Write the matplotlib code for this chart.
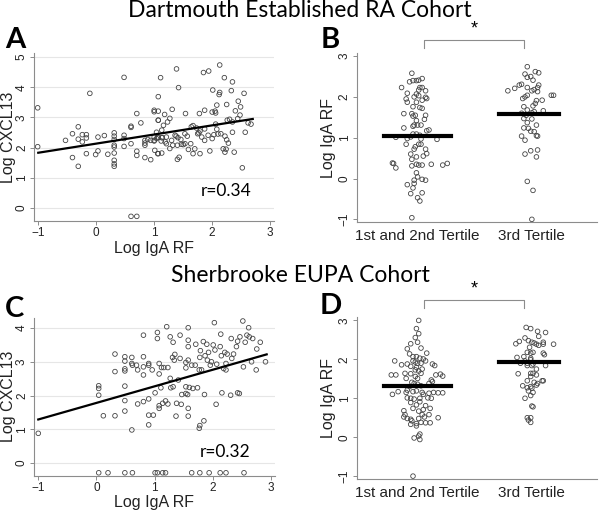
import matplotlib
matplotlib.use("Agg")
import matplotlib.pyplot as plt

# panel A: Dartmouth scatter (log IgA RF vs log CXCL13)
a_x = [-1.01, -1.01, 0.48, -0.11, -0.31, -0.41, -0.53, -0.31, -0.24, -0.17, -0.17, -0.24, -0.41, -0.31,
       -0.17, -0.01, 0.03, 0.03, 0.14, 0.20, 0.31, 0.31, 0.31, 0.31, 0.31, 0.31, 0.31, 0.31, 0.31, 0.48,
       0.48, 0.48, 0.60, 0.60, 0.60, 0.70, 0.70, 0.70, 0.77, 0.84, 0.84, 0.84, 0.84, 0.89, 0.94, 0.94,
       1.00, 1.00, 1.00, 1.00, 1.06, 1.07, 1.01, 1.07, 0.60, 0.70,
       1.385, 1.11, 2.13, 1.85, 1.94, 2.21, 2.35, 1.42, 1.07, 1.07, 1.07, 2.01, 2.13, 2.12, 2.33, 2.45,
       2.55, 2.49, 2.40, 2.08, 2.25, 2.05, 2.06, 1.87, 2.00, 1.54, 1.78, 1.31, 1.18, 1.27, 1.23, 1.16,
       1.64, 1.67, 1.73, 1.79, 1.87, 2.06, 2.08, 2.10, 2.15, 2.26, 2.30, 2.35, 2.44, 2.48, 2.57, 2.62,
       2.67, 2.35, 2.22, 2.25, 2.28, 2.38, 2.52, 2.22, 2.24, 2.19, 1.96, 1.79, 1.67, 1.59, 1.40, 1.43,
       1.40, 1.27, 1.13, 1.06, 1.13, 1.21, 1.30, 1.36, 1.46, 1.50, 1.70, 1.82, 1.87, 1.93, 2.00, 2.03,
       1.63, 1.57, 1.53, 1.75, 1.77, 1.13, 1.04,
       1.00, 1.07, 1.12, 1.19, 1.04, 1.21, 1.38, 1.41, 1.47, 1.53, 1.32, 1.14]
a_y = [3.32, 2.03, 4.33, 3.80, 2.69, 2.46, 2.24, 2.28, 2.43, 2.43, 2.32, 2.19, 1.67, 1.38,
       1.80, 1.77, 1.89, 2.35, 2.40, 1.78, 2.49, 2.38, 2.27, 2.08, 2.02, 1.82, 1.58, 1.46, 1.38, 2.41,
       2.30, 2.04, 2.71, 2.67, 2.13, 3.13, 1.88, 1.74, 2.82, 2.24, 2.15, 2.08, 1.67, 2.27, 2.24, 1.60,
       3.24, 3.19, 2.24, 2.35, 2.33, 2.91, 1.91, 1.80, -0.28, -0.28,
       4.61, 4.32, 4.74, 4.49, 4.54, 4.32, 4.18, 3.99, 3.69, 3.21, 2.91, 3.91, 3.83, 3.76, 3.89, 3.54,
       3.80, 3.35, 3.22, 3.41, 3.43, 3.21, 3.15, 3.24, 3.18, 3.13, 3.13, 3.27, 3.10, 2.97, 2.85, 2.74,
       2.69, 2.73, 2.65, 2.55, 2.62, 2.78, 2.61, 2.45, 2.46, 2.91, 2.94, 2.85, 2.96, 3.08, 2.51, 2.82,
       2.78, 2.51, 2.38, 2.26, 2.15, 1.85, 1.33, 1.85, 1.95, 1.96, 1.89, 1.80, 1.80, 1.94, 2.08, 1.68,
       1.61, 1.97, 1.82, 1.80, 2.33, 2.35, 2.24, 2.41, 2.27, 2.10, 1.96, 2.35, 2.24, 2.41, 2.30, 2.43,
       2.13, 2.38, 2.46, 2.46, 2.49, 2.58, 2.51,
       2.22, 2.35, 2.22, 2.19, 2.30, 2.13, 2.38, 2.33, 2.11, 2.13, 2.08, 2.33]
a_fit_x = [-1.0, 2.7]
a_fit_y = [1.83, 2.95]

# panel C: Sherbrooke scatter
c_x = [-1.0, 0.04, 0.04, 0.04, 0.12, 0.32, 0.32, 0.32, 0.49, 0.49, 0.49, 0.49, 0.49, 0.49, 0.49,
       0.61, 0.61, 0.62, 0.61, 0.69, 0.71, 0.71, 0.81, 0.81, 0.81, 0.81, 0.81, 0.90, 0.90, 0.90, 0.90,
       0.90, 0.96, 0.98, 1.01, 1.05, 1.05, 1.08, 1.08, 1.08, 1.08, 1.12, 1.16, 1.11, 1.14, 1.19, 1.21,
       1.23, 1.23, 1.27, 1.27, 1.28, 1.31, 1.32, 1.32, 1.34, 1.35, 1.37, 1.38, 1.41, 1.44, 1.44, 1.46,
       1.47, 1.54, 1.54, 1.54, 1.54, 1.57, 1.58, 1.58, 1.58, 1.58, 1.58, 1.58, 1.60, 1.64, 1.66, 1.70,
       1.71, 1.74, 1.77, 1.78, 1.78, 1.77, 1.79, 1.81, 1.84, 1.85, 1.86, 1.87, 1.90, 1.91, 1.93, 1.96,
       1.98, 2.01, 2.03, 2.04, 2.06, 2.07, 2.13, 2.14, 2.15, 2.16, 2.19, 2.21, 2.23, 2.23, 2.25, 2.32,
       2.31, 2.33, 2.36, 2.41, 2.43, 2.43, 2.46, 2.47, 2.52, 2.56, 2.53, 2.59, 2.62, 2.63, 2.69, 2.67,
       2.75, 2.76, 2.82, 2.91,
       0.04, 0.20, 0.49, 0.62, 1.01, 1.05, 1.14, 1.19, 1.64, 1.78, 1.94, 2.13, 2.23, 2.54]
c_y = [0.88, 2.29, 2.21, 2.01, 1.40, 3.23, 2.71, 1.40, 3.15, 3.02, 2.79, 2.73, 2.28, 1.85, 1.54,
       3.13, 2.95, 2.90, 0.98, 2.90, 2.76, 1.75, 3.79, 3.15, 2.85, 2.61, 1.82, 2.95, 2.90, 1.90, 1.42,
       1.13, 2.76, 1.42, 2.08, 3.87, 3.69, 2.95, 2.64, 1.70, 1.62, 2.83, 2.83, 2.23, 1.77, 1.84, 4.04,
       2.83, 1.75, 3.74, 2.51, 2.23, 3.13, 3.58, 2.26, 3.05, 3.22, 1.39, 1.77, 2.46, 3.79, 3.10, 1.74,
       2.03, 2.06, 2.82, 2.98, 2.26, 2.03, 4.01, 3.64, 3.45, 3.05, 1.62, 1.39, 2.24, 2.90, 2.21, 2.90,
       3.52, 2.23, 1.03, 1.11, 3.13, 2.76, 3.33, 2.76, 3.60, 1.25, 2.03, 3.18, 3.52, 3.05, 3.28, 2.90,
       3.00, 3.50, 4.16, 3.35, 1.74, 2.93, 3.45, 3.82, 3.18, 2.08, 2.80, 3.28, 2.76, 2.95, 3.23, 3.69,
       2.01, 3.10, 3.23, 3.45, 3.61, 2.08, 2.06, 3.74, 4.21, 3.58, 2.85, 3.79, 4.01, 3.74, 3.69, 3.00,
       2.76, 3.38, 3.58, 3.00,
       -0.29, -0.29, -0.29, -0.29, -0.29, -0.29, -0.29, -0.29, -0.29, -0.29, -0.29, -0.29, -0.29, -0.29]
c_fit_x = [-1.0, 2.93]
c_fit_y = [1.29, 3.22]

# panel B: Dartmouth IgA RF by CXCL13 tertile
b1_x = [0.95, 0.93, 0.96, 0.99, 1.01, 1.04, 0.86, 0.91, 1.02, 1.04, 1.01, 1.07, 0.99, 1.01,
        0.90, 0.97, 1.07, 1.08, 1.04, 0.91, 0.99, 0.96, 1.02, 1.04, 0.88, 0.95, 0.98, 0.96, 1.07,
        0.99, 1.06, 0.97, 0.96, 1.00, 1.03, 1.08, 1.10, 0.88, 0.96, 0.99, 1.02, 0.94, 0.91, 0.81,
        1.03, 1.17, 0.90, 1.01, 1.03, 0.98, 0.97, 1.07, 0.94, 1.08, 1.05, 0.99, 0.95, 0.78, 0.79,
        0.81, 0.99, 1.01, 1.04, 0.95, 1.12, 1.22, 1.26, 0.99, 1.00, 1.04, 1.07, 0.97, 0.91, 0.97,
        0.96, 1.04, 0.94, 1.00, 1.02, 0.95]
b1_y = [2.58, 2.37, 2.40, 2.40, 2.41, 2.45, 2.23, 2.09, 2.23, 2.23, 2.17, 2.15, 2.07, 2.03,
        1.95, 2.00, 1.99, 1.96, 1.92, 1.87, 1.87, 1.76, 1.74, 1.72, 1.59, 1.59, 1.55, 1.53, 1.55,
        1.42, 1.45, 1.31, 1.28, 1.31, 1.31, 1.17, 1.19, 1.24, 1.09, 1.09, 1.06, 1.02, 0.98, 1.01,
        0.97, 0.96, 0.84, 0.84, 0.84, 0.78, 0.72, 0.72, 0.60, 0.61, 0.55, 0.53, 0.47, 0.38, 0.37,
        0.26, 0.35, 0.33, 0.33, 0.31, 0.35, 0.33, 0.37, 0.14, 0.04, -0.02, -0.04, -0.04, -0.15,
        -0.12, -0.23, -0.35, -0.37, -0.47, -0.55, -0.96]
b2_x = [1.96, 1.94, 2.03, 2.06, 1.96, 1.99, 2.01, 1.79, 1.85, 1.89, 1.91, 1.96, 2.02, 2.05,
        2.06, 2.00, 2.05, 1.96, 1.94, 1.92, 2.17, 2.19, 2.09, 2.04, 2.03, 2.01, 1.93, 1.96, 2.00,
        2.02, 2.10, 1.91, 1.95, 1.93, 2.00, 1.96, 2.04, 1.93, 1.97, 1.99, 2.02, 1.91, 2.04, 2.05,
        1.94, 1.99, 2.05, 1.94, 2.04, 1.96, 2.01, 2.00]
b2_y = [2.74, 2.56, 2.62, 2.59, 2.48, 2.50, 2.41, 2.15, 2.21, 2.29, 2.31, 2.23, 2.18, 2.23,
        2.29, 2.15, 2.13, 2.04, 2.00, 1.96, 2.04, 2.04, 1.92, 1.91, 1.84, 1.78, 1.76, 1.68, 1.61,
        1.64, 1.66, 1.60, 1.55, 1.47, 1.46, 1.37, 1.31, 1.24, 1.23, 1.16, 1.15, 1.04, 1.05, 1.04,
        0.94, 0.68, 0.70, 0.60, 0.53, -0.07, -0.29, -1.00]
b_means = [1.05, 1.57]

# panel D: Sherbrooke IgA RF by CXCL13 tertile
d1_x = [1.01, 0.99, 1.01, 0.98, 1.00, 0.94, 1.03, 0.91, 0.93, 1.08, 0.96, 0.99, 1.02, 1.05,
        0.80, 0.96, 0.98, 1.00, 1.03, 1.07, 0.86, 0.91, 0.94, 0.99, 1.04, 1.13, 1.15, 0.98, 1.01,
        0.89, 0.94, 1.03, 0.77, 0.81, 1.20, 1.22, 1.16, 0.98, 1.00, 0.90, 1.12, 1.13, 0.95, 0.97,
        1.00, 1.03, 1.10, 0.93, 0.91, 0.83, 0.78, 0.90, 0.96, 0.99, 1.04, 1.05, 1.10, 1.14, 1.18,
        1.22, 0.91, 0.94, 0.97, 1.02, 1.09, 1.12, 0.94, 1.02, 0.99, 1.07, 0.96, 1.05, 1.11, 0.88,
        1.01, 0.89, 1.04, 1.06, 1.10, 0.88, 0.91, 0.94, 0.95, 1.01, 1.03, 1.07, 1.11, 0.99, 0.94,
        1.18, 0.99, 1.02, 1.01, 0.97, 1.02, 0.96]
d1_y = [3.00, 2.79, 2.66, 2.56, 2.44, 2.40, 2.29, 2.27, 2.14, 2.16, 2.07, 2.07, 2.03, 2.01,
        1.96, 1.96, 1.93, 1.90, 1.90, 1.96, 1.86, 1.88, 1.82, 1.79, 1.75, 1.88, 1.84, 1.73, 1.70,
        1.64, 1.63, 1.64, 1.60, 1.60, 1.62, 1.57, 1.60, 1.56, 1.51, 1.51, 1.47, 1.43, 1.41, 1.38,
        1.36, 1.32, 1.38, 1.30, 1.21, 1.17, 1.10, 1.15, 1.17, 1.19, 1.15, 1.10, 1.13, 1.15, 1.14,
        1.14, 1.01, 1.00, 0.98, 1.00, 1.01, 1.00, 0.89, 0.91, 0.83, 0.81, 0.74, 0.71, 0.74, 0.68,
        0.67, 0.58, 0.58, 0.52, 0.58, 0.52, 0.48, 0.46, 0.42, 0.48, 0.38, 0.37, 0.37, 0.35, 0.33,
        0.50, 0.29, 0.08, 0.03, -0.02, -0.06, -1.00]
d2_x = [1.95, 1.99, 2.05, 2.12, 1.94, 2.06, 1.86, 1.89, 1.97, 2.00, 2.02, 2.04, 2.10, 2.10,
        2.19, 2.06, 1.98, 1.96, 1.99, 2.01, 2.10, 2.11, 1.87, 1.93, 1.99, 1.94, 1.99, 1.90, 1.96,
        2.01, 1.96, 2.00, 2.12, 2.04, 1.99, 2.01, 1.88, 2.04, 1.99, 1.96, 2.02, 2.05, 2.09, 2.10,
        2.04, 1.92, 1.99, 1.96, 2.00, 1.97, 2.01, 1.94, 1.99, 2.00, 2.01, 1.99, 1.97, 1.99, 1.96]
d2_y = [2.82, 2.79, 2.72, 2.69, 2.55, 2.59, 2.40, 2.46, 2.48, 2.44, 2.42, 2.39, 2.44, 2.39,
        2.39, 2.36, 2.31, 2.18, 2.16, 2.18, 2.16, 2.12, 2.05, 2.07, 2.03, 1.96, 1.99, 1.90, 1.90,
        1.88, 1.84, 1.84, 1.84, 1.75, 1.64, 1.64, 1.63, 1.60, 1.56, 1.45, 1.41, 1.38, 1.45, 1.45,
        1.34, 1.32, 1.30, 1.27, 1.26, 1.19, 1.15, 1.00, 1.07, 0.80, 0.78, 0.50, 0.44, 0.38, 0.50]
d_means = [1.32, 1.94]

groups = ["1st and 2nd Tertile", "3rd Tertile"]

SANS = ["Liberation Sans", "DejaVu Sans"]
HUMAN = ["Lato", "DejaVu Sans"]
GREY = "#8c8c8c"


def style_axes(ax, grid=False):
    for side in ["top", "right"]:
        ax.spines[side].set_visible(False)
    for side in ["left", "bottom"]:
        ax.spines[side].set_color(GREY)
        ax.spines[side].set_linewidth(0.8)
    ax.tick_params(colors=GREY, labelcolor="#222222", length=3, width=0.7, labelsize=8.5, pad=1.5)
    for lab in ax.get_yticklabels():
        lab.set_rotation(90)
        lab.set_va("center")
        lab.set_family(SANS)
    for lab in ax.get_xticklabels():
        lab.set_family(SANS)
    if grid:
        ax.yaxis.grid(True, color="#e6e6e6", linewidth=0.8)
        ax.set_axisbelow(True)


def scatter_panel(ax, x, y, fit_x, fit_y, ylim, yticks, rtext, rpos):
    ax.scatter(x, y, s=11, facecolors="none", edgecolors="#444444", linewidths=0.6, zorder=3)
    ax.plot(fit_x, fit_y, color="black", linewidth=1.6, zorder=4)
    ax.set_xlim(-1.07, 3.07)
    ax.set_ylim(*ylim)
    ax.set_xticks([-1, 0, 1, 2, 3])
    ax.set_yticks(yticks)
    ax.set_xlabel("Log IgA RF", fontsize=11.5, family=SANS, color="#222222", labelpad=1)
    ax.set_ylabel("Log CXCL13", fontsize=11.5, family=SANS, color="#222222", labelpad=0)
    ax.text(rpos[0], rpos[1], rtext, fontsize=12.5, family=HUMAN, ha="center", va="center")
    style_axes(ax, grid=True)


def tertile_panel(ax, g1x, g1y, g2x, g2y, means, ylim, brk_y):
    ax.scatter(g1x, g1y, s=11, facecolors="none", edgecolors="#444444", linewidths=0.6, zorder=3)
    ax.scatter(g2x, g2y, s=11, facecolors="none", edgecolors="#444444", linewidths=0.6, zorder=3)
    ax.plot([0.71, 1.29], [means[0], means[0]], color="black", linewidth=3, zorder=4)
    ax.plot([1.71, 2.24], [means[1], means[1]], color="black", linewidth=3, zorder=4)
    ax.set_xlim(0.47, 2.57)
    ax.set_ylim(*ylim)
    ax.set_xticks([1, 2])
    ax.set_xticklabels(groups)
    ax.set_yticks([-1, 0, 1, 2, 3])
    ax.set_ylabel("Log IgA RF", fontsize=11.5, family=SANS, color="#222222", labelpad=2)
    style_axes(ax)
    ax.tick_params(axis="x", length=0, labelsize=11, pad=5)
    # significance bracket above the plot
    top, low, star = brk_y
    ax.plot([1.06, 1.06, 1.93, 1.93], [low, top, top, low], color=GREY, linewidth=0.8, clip_on=False)
    ax.text(1.5, star, "*", fontsize=13, ha="center", va="center", family=SANS)


fig = plt.figure(figsize=(6, 5.12), dpi=100)

ax_a = fig.add_axes([0.057, 0.568, 0.400, 0.328])
ax_b = fig.add_axes([0.595, 0.566, 0.400, 0.330])
ax_c = fig.add_axes([0.057, 0.071, 0.401, 0.308])
ax_d = fig.add_axes([0.595, 0.064, 0.400, 0.317])

scatter_panel(ax_a, a_x, a_y, a_fit_x, a_fit_y, (-0.44, 5.13), [0, 1, 2, 3, 4, 5], "r=0.34", (2.24, 0.56))
scatter_panel(ax_c, c_x, c_y, c_fit_x, c_fit_y, (-0.375, 4.3), [0, 1, 2, 3, 4], "r=0.32", (2.22, 0.34))
tertile_panel(ax_b, b1_x, b1_y, b2_x, b2_y, b_means, (-1.07, 3.07), (3.39, 3.21, 3.66))
tertile_panel(ax_d, d1_x, d1_y, d2_x, d2_y, d_means, (-1.08, 3.09), (3.52, 3.32, 3.82))

fig.text(0.5, 0.966, "Dartmouth Established RA Cohort", fontsize=16.5, family=HUMAN, ha="center", va="baseline")
fig.text(0.5, 0.449, "Sherbrooke EUPA Cohort", fontsize=16.5, family=HUMAN, ha="center", va="baseline")

for lab, (px, py) in zip("ABCD", [(0.008, 0.906), (0.535, 0.907), (0.008, 0.381), (0.532, 0.387)]):
    fig.text(px, py, lab, fontsize=21, fontweight="bold", family=HUMAN, ha="left", va="baseline")

fig.savefig("out.png", dpi=100)
